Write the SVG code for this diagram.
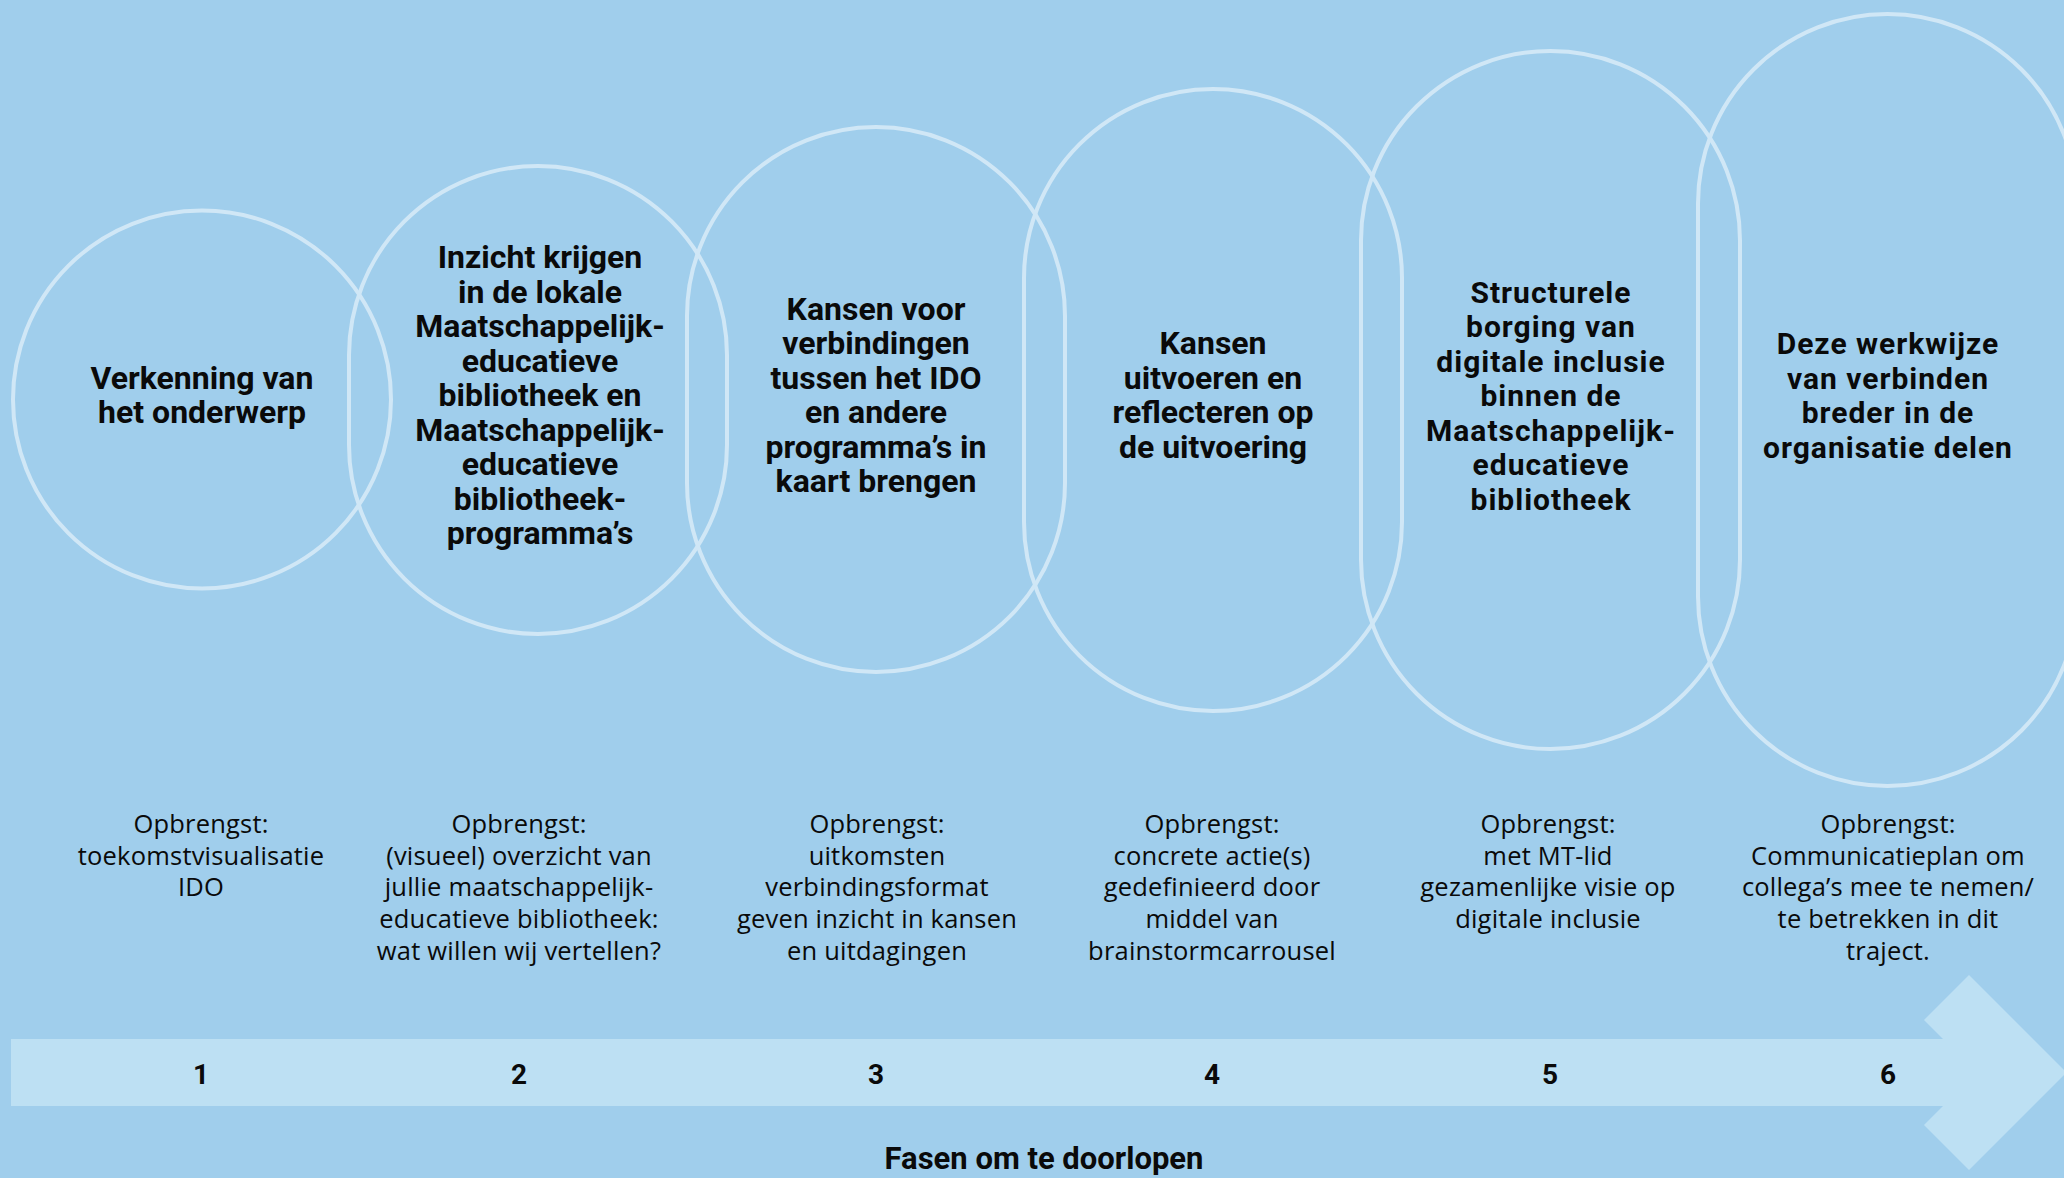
<svg xmlns="http://www.w3.org/2000/svg" width="2064" height="1178" viewBox="0 0 2064 1178">
  <style>
    .bg { fill: #a0ceec; }
    .ring { fill: none; stroke: #d0e7f6; stroke-width: 4; }
    .head { font-family: Roboto, "Liberation Sans", sans-serif; font-weight: 700; font-size: 32px; fill: #0a0a0a; text-anchor: middle; }
    .head2 { font-family: Roboto, "Liberation Sans", sans-serif; font-weight: 700; font-size: 30px; letter-spacing: 1px; fill: #0a0a0a; text-anchor: middle; }
    .body { font-family: "Open Sans", "Noto Sans", sans-serif; font-weight: 400; font-size: 25.5px; letter-spacing: 0.2px; fill: #0a0a0a; text-anchor: middle; }
    .num { font-family: Roboto, "Liberation Sans", sans-serif; font-weight: 700; font-size: 28px; fill: #0a0a0a; text-anchor: middle; }
    .band { fill: #bde0f3; }
  </style>
  <rect class="bg" x="0" y="0" width="2064" height="1178"/>

  <g id="timeline">
    <path class="band" d="M11,1039 H1943 L1924,1020 L1969,975 L2066.5,1072.5 L1969,1170 L1924,1125 L1943,1106 H11 Z"/>
    <text class="num" x="201" y="1084">1</text>
    <text class="num" x="519" y="1084">2</text>
    <text class="num" x="876" y="1084">3</text>
    <text class="num" x="1212" y="1084">4</text>
    <text class="num" x="1550" y="1084">5</text>
    <text class="num" x="1888" y="1084">6</text>
    <text class="head" x="1044" y="1169" style="font-size:31px">Fasen om te doorlopen</text>
  </g>

  <g id="connectors"></g>

  <g id="phase1">
    <circle class="ring" cx="202" cy="399.5" r="189"/>
    <text class="head" x="202" y="388.75">Verkenning van</text>
    <text class="head" x="202" y="423.25">het onderwerp</text>
    <text class="body" x="201" y="833">Opbrengst:</text>
    <text class="body" x="201" y="864.7">toekomstvisualisatie</text>
    <text class="body" x="201" y="896.4">IDO</text>
  </g>

  <g id="phase2">
    <rect class="ring" x="349" y="166" width="378" height="468" rx="189"/>
    <text class="head" x="540" y="268">Inzicht krijgen</text>
    <text class="head" x="540" y="302.5">in de lokale</text>
    <text class="head" x="540" y="337">Maatschappelijk-</text>
    <text class="head" x="540" y="371.5">educatieve</text>
    <text class="head" x="540" y="406">bibliotheek en</text>
    <text class="head" x="540" y="440.5">Maatschappelijk-</text>
    <text class="head" x="540" y="475">educatieve</text>
    <text class="head" x="540" y="509.5">bibliotheek-</text>
    <text class="head" x="540" y="544">programma’s</text>
    <text class="body" x="519" y="833">Opbrengst:</text>
    <text class="body" x="519" y="864.7">(visueel) overzicht van</text>
    <text class="body" x="519" y="896.4">jullie maatschappelijk-</text>
    <text class="body" x="519" y="928.1">educatieve bibliotheek:</text>
    <text class="body" x="519" y="959.8">wat willen wij vertellen?</text>
  </g>

  <g id="phase3">
    <rect class="ring" x="687" y="127" width="378" height="545" rx="189"/>
    <text class="head" x="876" y="319.75">Kansen voor</text>
    <text class="head" x="876" y="354.25">verbindingen</text>
    <text class="head" x="876" y="388.75">tussen het IDO</text>
    <text class="head" x="876" y="423.25">en andere</text>
    <text class="head" x="876" y="457.75">programma’s in</text>
    <text class="head" x="876" y="492.25">kaart brengen</text>
    <text class="body" x="877" y="833">Opbrengst:</text>
    <text class="body" x="877" y="864.7">uitkomsten</text>
    <text class="body" x="877" y="896.4">verbindingsformat</text>
    <text class="body" x="877" y="928.1">geven inzicht in kansen</text>
    <text class="body" x="877" y="959.8">en uitdagingen</text>
  </g>

  <g id="phase4">
    <rect class="ring" x="1024" y="89" width="378" height="622" rx="189"/>
    <text class="head" x="1213" y="354.25">Kansen</text>
    <text class="head" x="1213" y="388.75">uitvoeren en</text>
    <text class="head" x="1213" y="423.25">reflecteren op</text>
    <text class="head" x="1213" y="457.75">de uitvoering</text>
    <text class="body" x="1212" y="833">Opbrengst:</text>
    <text class="body" x="1212" y="864.7">concrete actie(s)</text>
    <text class="body" x="1212" y="896.4">gedefinieerd door</text>
    <text class="body" x="1212" y="928.1">middel van</text>
    <text class="body" x="1212" y="959.8">brainstormcarrousel</text>
  </g>

  <g id="phase5">
    <rect class="ring" x="1361" y="51" width="379" height="698" rx="189.5"/>
    <text class="head2" x="1551" y="302.5">Structurele</text>
    <text class="head2" x="1551" y="337">borging van</text>
    <text class="head2" x="1551" y="371.5">digitale inclusie</text>
    <text class="head2" x="1551" y="406">binnen de</text>
    <text class="head2" x="1551" y="440.5">Maatschappelijk-</text>
    <text class="head2" x="1551" y="475">educatieve</text>
    <text class="head2" x="1551" y="509.5">bibliotheek</text>
    <text class="body" x="1548" y="833">Opbrengst:</text>
    <text class="body" x="1548" y="864.7">met MT-lid</text>
    <text class="body" x="1548" y="896.4">gezamenlijke visie op</text>
    <text class="body" x="1548" y="928.1">digitale inclusie</text>
  </g>

  <g id="phase6">
    <rect class="ring" x="1698" y="14" width="379" height="772" rx="189.5"/>
    <text class="head2" x="1888" y="354.25">Deze werkwijze</text>
    <text class="head2" x="1888" y="388.75">van verbinden</text>
    <text class="head2" x="1888" y="423.25">breder in de</text>
    <text class="head2" x="1888" y="457.75">organisatie delen</text>
    <text class="body" x="1888" y="833">Opbrengst:</text>
    <text class="body" x="1888" y="864.7">Communicatieplan om</text>
    <text class="body" x="1888" y="896.4">collega’s mee te nemen/</text>
    <text class="body" x="1888" y="928.1">te betrekken in dit</text>
    <text class="body" x="1888" y="959.8">traject.</text>
  </g>
</svg>
